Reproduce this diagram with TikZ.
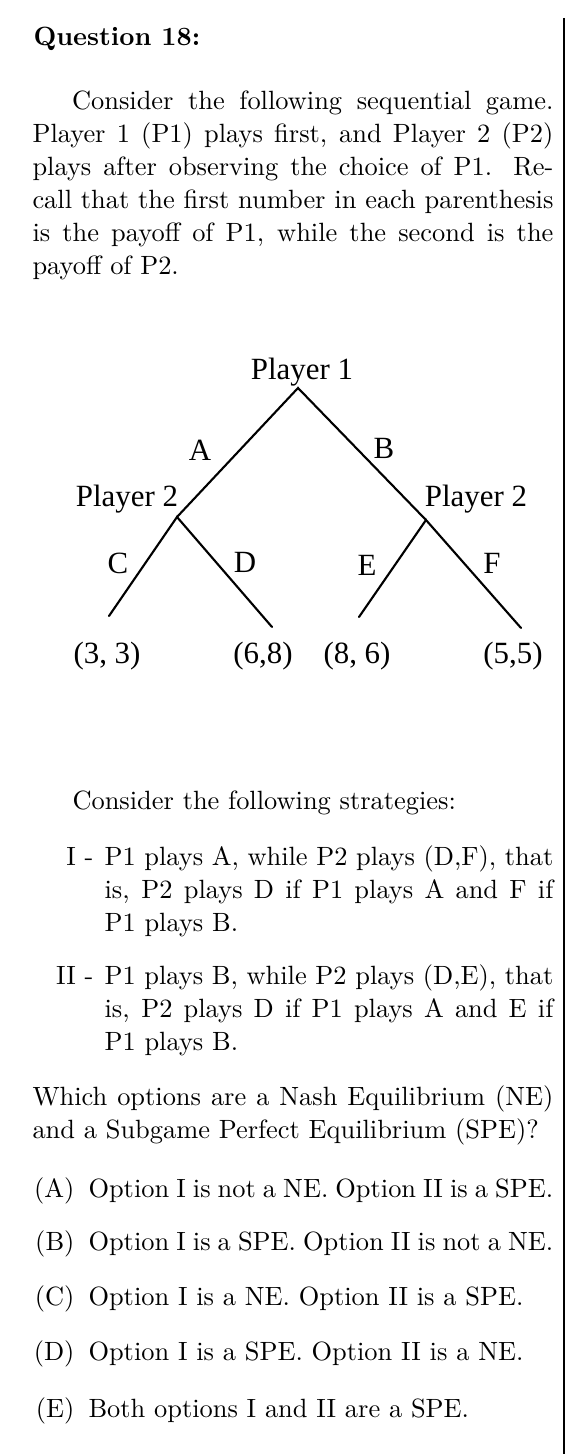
\documentclass[tikz,border=0pt]{standalone}
\usepackage{fontspec}
\newfontfamily\treefont{Liberation Serif}
\usepackage{tikz}

\begin{document}
\begin{tikzpicture}[x=0.37879pt, y=-0.37879pt,
  txt/.style={anchor=base west, inner sep=0pt, font=\fontsize{10}{12.5}\selectfont},
  tag/.style={anchor=base east, inner sep=0pt, font=\fontsize{10}{12.5}\selectfont},
  lbl/.style={inner sep=0pt, font=\treefont\fontsize{11.7}{14}\selectfont},
  branch/.style={line width=0.8pt, line cap=round}
]
\useasboundingbox (0,0) rectangle (576,1454);
\draw[line width=0.75pt] (564,18) -- (564,1454);

\node[txt] (title) at (33,46) {\bfseries Question 18:};
\node[txt] (intro) at (32,110) {\parbox[t]{197.3pt}{\hspace*{15pt}Consider the following sequential game.\linebreak
  Player 1 (P1) plays first, and Player 2 (P2)\linebreak
  plays after observing the choice of P1. Re-\linebreak
  call that the first number in each parenthesis\linebreak
  is the payoff of P1, while the second is the\linebreak
  payoff of P2.}};

\coordinate (root) at (298,388);
\coordinate (nl) at (177,517);
\coordinate (nr) at (426,520);
\coordinate (lc) at (109,616);
\coordinate (ld) at (272,627);
\coordinate (le) at (359,617);
\coordinate (lf) at (521,628);
\draw[branch] (nl) -- (root) -- (nr);
\draw[branch] (lc) -- (nl) -- (ld);
\draw[branch] (le) -- (nr) -- (lf);

\node[lbl] (p1) at (302,372) {Player 1};
\node[lbl] (p2l) at (127,499) {Player 2};
\node[lbl] (p2r) at (476,499) {Player 2};
\node[lbl] (ma) at (200,450) {A};
\node[lbl] (mb) at (384,448) {B};
\node[lbl] (mc) at (118,563) {C};
\node[lbl] (md) at (245,562) {D};
\node[lbl] (me) at (367,565) {E};
\node[lbl] (mf) at (492,563) {F};
\node[lbl] (pc) at (107,656) {(3, 3)};
\node[lbl] (pd) at (263,656) {(6,8)};
\node[lbl] (pe) at (357,656) {(8, 6)};
\node[lbl] (pf) at (513,656) {(5,5)};

\node[txt] (cons) at (72,809) {Consider the following strategies:};
\node[tag] (tI) at (94,865) {I -};
\node[txt] (sI) at (104,865) {\parbox[t]{170pt}{P1 plays A, while P2 plays (D,F), that\linebreak
  is, P2 plays D if P1 plays A and F if\linebreak
  P1 plays B.}};
\node[tag] (tII) at (94,984) {II -};
\node[txt] (sII) at (104,984) {\parbox[t]{170pt}{P1 plays B, while P2 plays (D,E), that\linebreak
  is, P2 plays D if P1 plays A and E if\linebreak
  P1 plays B.}};

\node[txt] (ask) at (32,1105) {\parbox[t]{197.3pt}{Which options are a Nash Equilibrium (NE)\linebreak
  and a Subgame Perfect Equilibrium (SPE)?}};

\node[tag] (kA) at (75,1197) {(A)};
\node[txt] (oA) at (88,1197) {\makebox[176pt][s]{Option I is not a NE. Option II is a SPE.}};
\node[tag] (kB) at (75,1250) {(B)};
\node[txt] (oB) at (88,1250) {\makebox[176pt][s]{Option I is a SPE. Option II is not a NE.}};
\node[tag] (kC) at (75,1305) {(C)};
\node[txt] (oC) at (88,1305) {Option I is a NE. Option II is a SPE.};
\node[tag] (kD) at (75,1360) {(D)};
\node[txt] (oD) at (88,1360) {Option I is a SPE. Option II is a NE.};
\node[tag] (kE) at (75,1417) {(E)};
\node[txt] (oE) at (88,1417) {Both options I and II are a SPE.};
\end{tikzpicture}
\end{document}
